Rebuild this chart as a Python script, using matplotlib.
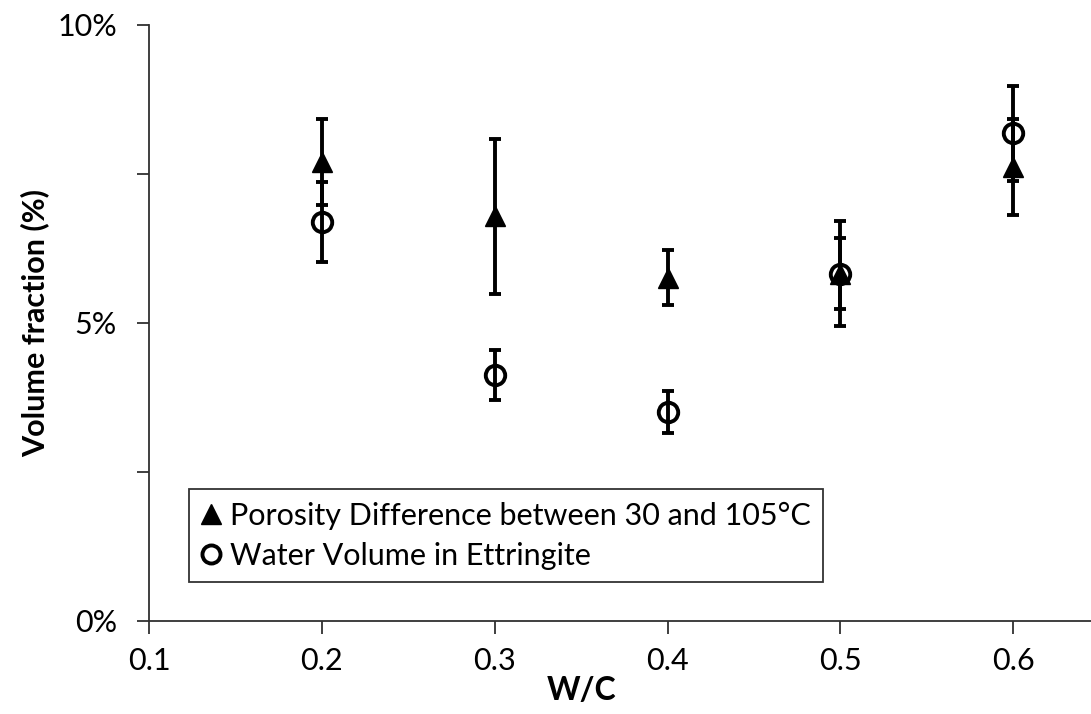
import matplotlib
matplotlib.use("Agg")
import matplotlib.pyplot as plt
import matplotlib.ticker as mticker
from matplotlib.lines import Line2D

# data (values in %)
wc = [0.2, 0.3, 0.4, 0.5, 0.6]
porosity_diff = [7.70, 6.79, 5.76, 5.83, 7.62]
porosity_err = [0.72, 1.30, 0.46, 0.88, 0.80]
water_ettr = [6.70, 4.13, 3.51, 5.83, 8.18]
water_err = [0.67, 0.42, 0.35, 0.59, 0.80]

labels = ["Porosity Difference between 30 and 105°C", "Water Volume in Ettringite"]

plt.rcParams['font.family'] = ['Lato', 'DejaVu Sans']

fig = plt.figure(figsize=(10.91, 7.14), dpi=100)
ax = fig.add_axes([149 / 1091, 1 - 621 / 714, 942 / 1091, 596 / 714])

ax.errorbar(wc, porosity_diff, yerr=porosity_err, fmt='^', color='black',
            markersize=14, elinewidth=2.8, capsize=4.5, capthick=2.8, zorder=3)
ax.errorbar(wc, water_ettr, yerr=water_err, fmt='o', color='black',
            markerfacecolor='none', markeredgewidth=2.8, markersize=14,
            elinewidth=2.8, capsize=4.5, capthick=2.8, zorder=4)

ax.set_xlim(0.1, 0.645)
ax.set_ylim(0, 10)
ax.set_xticks([0.1, 0.2, 0.3, 0.4, 0.5, 0.6])
ax.set_yticks([0, 5, 10])
ax.set_yticks([2.5, 7.5], minor=True)
ax.yaxis.set_major_formatter(mticker.PercentFormatter(decimals=0))

for s in ['top', 'right']:
    ax.spines[s].set_visible(False)
for s in ['left', 'bottom']:
    ax.spines[s].set_color('#303030')
    ax.spines[s].set_linewidth(1.3)

ax.tick_params(which='both', direction='out', length=9, width=1.3,
               color='#303030', labelsize=22)
ax.tick_params(axis='x', pad=10)
ax.tick_params(axis='y', pad=14)

ax.set_xlabel("W/C", fontsize=23, fontweight='bold')
ax.xaxis.set_label_coords((582 - 149) / 942, -0.092)
ax.set_ylabel("Volume fraction (%)", fontsize=22, fontweight='bold')
ax.yaxis.set_label_coords(-0.106, 0.5)

handles = [
    Line2D([], [], marker='^', ls='none', color='black', markersize=14),
    Line2D([], [], marker='o', ls='none', color='black', markerfacecolor='none',
           markeredgewidth=2.8, markersize=13),
]
leg = ax.legend(handles, labels, loc='lower left', bbox_to_anchor=(0.042, 0.065),
                borderaxespad=0, fontsize=22, frameon=True, fancybox=False,
                handlelength=0.7, handletextpad=0.25, borderpad=0.4,
                labelspacing=0.4)
leg.get_frame().set_edgecolor('black')
leg.get_frame().set_linewidth(1.3)

fig.savefig("out.png", dpi=100)
